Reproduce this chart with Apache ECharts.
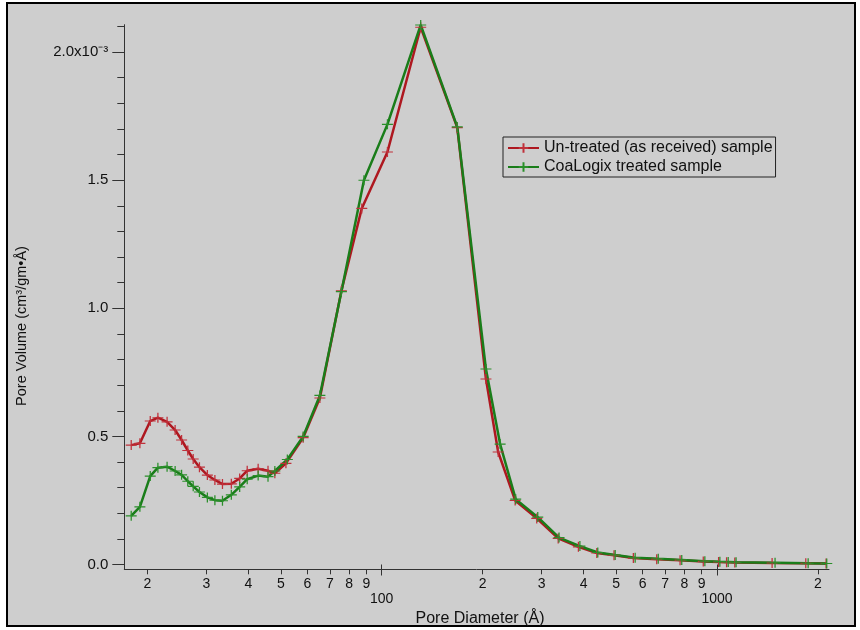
<!DOCTYPE html>
<html><head><meta charset="utf-8">
<script src="https://cdn.jsdelivr.net/npm/echarts@6/dist/echarts.min.js"></script>
<style>html,body{margin:0;padding:0;background:#fff}#c{width:860px;height:630px}</style>
</head><body><div id="c"></div>
<script>
// Pore diameter (Å) and pore volume (units of 1e-3 cm3/gm·Å)
const diameterUntreated = [17.9,19.0,20.4,21.5,22.9,24.2,25.3,26.4,27.4,28.6,30.2,31.8,33.5,35.6,37.7,39.7,42.8,45.8,48.0,51.8,58.3,65.4,75.8,87.2,104,130.7,168,204.6,222.5,250,290,336,386,438,493,563,661,776,910,1011,1068,1130,1460,1840,2115];
const volumeUntreated = [0.466,0.473,0.560,0.573,0.557,0.525,0.486,0.445,0.412,0.380,0.349,0.330,0.314,0.315,0.336,0.366,0.374,0.366,0.356,0.395,0.495,0.650,1.068,1.39,1.61,2.097,1.705,0.724,0.439,0.250,0.180,0.102,0.069,0.045,0.036,0.025,0.021,0.017,0.012,0.010,0.009,0.008,0.006,0.005,0.004];
const diameterTreated = [17.9,19.0,20.4,21.5,22.9,24.2,25.3,26.4,27.4,28.6,30.2,31.8,33.5,35.6,37.7,39.7,42.8,45.8,48.0,52.3,58.3,65.4,75.8,88.5,104,130.7,168,204.6,225.5,251,292,338,390,441,497,570,668,785,920,1020,1080,1140,1490,1870,2125];
const volumeTreated = [0.190,0.225,0.345,0.378,0.382,0.365,0.350,0.325,0.305,0.283,0.262,0.251,0.249,0.272,0.303,0.333,0.347,0.343,0.365,0.410,0.500,0.660,1.065,1.50,1.718,2.106,1.708,0.763,0.470,0.255,0.185,0.105,0.072,0.047,0.037,0.026,0.022,0.018,0.013,0.011,0.010,0.009,0.007,0.005,0.004];
const seriesNames = ['Un-treated (as received) sample','CoaLogix treated sample'];
const xMinorTicks = [20,30,40,50,60,70,80,90,200,300,400,500,600,700,800,900,2000];
const xMajorTicks = [100,1000];
const yMajorTicks = [0,0.5,1.0,1.5,2.0];
const yMinorTicks = [0.1,0.2,0.3,0.4,0.6,0.7,0.8,0.9,1.1,1.2,1.3,1.4,1.6,1.7,1.8,1.9,2.1];

const chart = echarts.init(document.getElementById('c'), null, {renderer:'canvas'});
const FONT = 'Liberation Sans, Arial, sans-serif';
const crossSym = 'path://M0,5L10,5M5,0L5,10';
const xMin = 17.07, xMax = 2158, yMin = -0.0187, yMax = 2.107;

function xLabel(v){
  const e = Math.floor(Math.log10(v) + 1e-9);
  const p = Math.pow(10, e);
  const m = Math.round(v / p);
  if (m === 1) return '\n' + Math.round(v);
  return String(m);
}

const option = {
  animation: false,
  backgroundColor: 'transparent',
  graphic: [
    {type:'rect', z:-10, shape:{x:7,y:3,width:848,height:623}, style:{fill:'#cecece', stroke:'#000', lineWidth:2}},
    {type:'text', z:10, x:22, y:326, rotation:Math.PI/2,
     style:{text:'Pore Volume (cm³/gm•Å)', font:'14.5px '+FONT, fill:'#111', align:'center', verticalAlign:'middle'}},
    {type:'text', z:10, x:480, y:619,
     style:{text:'Pore Diameter (Å)', font:'16px '+FONT, fill:'#111', align:'center', verticalAlign:'middle'}}
  ],
  grid: {left:124.3, right:31, top:24.7, bottom:60.7, containLabel:false},
  legend: {
    orient:'vertical', left:503, top:137, padding:[3,3,2,4],
    borderColor:'#222', borderWidth:1, backgroundColor:'transparent',
    itemWidth:31, itemHeight:12, itemGap:3,
    textStyle:{fontFamily:FONT, fontSize:16, color:'#111'},
    data: seriesNames
  },
  xAxis: [
    {type:'log', logBase:10, min:xMin, max:xMax,
     axisLine:{show:true, onZero:false, lineStyle:{color:'#333', width:1}},
     axisTick:{show:true, inside:false, length:5, customValues:xMinorTicks, lineStyle:{color:'#333'}},
     axisLabel:{show:true, margin:7, customValues:xMinorTicks.concat(xMajorTicks), formatter:xLabel,
       fontFamily:FONT, fontSize:14, color:'#111', lineHeight:15},
     splitLine:{show:false}, minorTick:{show:false}},
    {type:'log', logBase:10, min:xMin, max:xMax, position:'bottom',
     axisLine:{show:false},
     axisTick:{show:true, length:11, customValues:xMajorTicks, lineStyle:{color:'#333'}},
     axisLabel:{show:false}, splitLine:{show:false}}
  ],
  yAxis: [
    {type:'value', min:yMin, max:yMax,
     axisLine:{show:true, onZero:false, lineStyle:{color:'#333', width:1}},
     axisTick:{show:true, length:12, customValues:yMajorTicks, lineStyle:{color:'#333'}},
     axisLabel:{show:true, margin:16, customValues:yMajorTicks,
       formatter:function(v){ return Math.abs(v-2)<1e-6 ? '2.0x10⁻³' : v.toFixed(1); },
       fontFamily:FONT, fontSize:15, color:'#111'},
     splitLine:{show:false}},
    {type:'value', min:yMin, max:yMax, position:'left',
     axisLine:{show:false},
     axisTick:{show:true, length:7, customValues:yMinorTicks, lineStyle:{color:'#333'}},
     axisLabel:{show:false}, splitLine:{show:false}}
  ],
  series: [
    {name:seriesNames[0], type:'line', xAxisIndex:0, yAxisIndex:0,
     data: diameterUntreated.map((d,i)=>[d, volumeUntreated[i]]),
     symbol:crossSym, symbolSize:[11,10], showAllSymbol:true,
     lineStyle:{color:'#ae1820', width:2.5},
     itemStyle:{color:'#ae1820', borderColor:'#c0303a', borderWidth:1.2}},
    {name:seriesNames[1], type:'line', xAxisIndex:0, yAxisIndex:0,
     data: diameterTreated.map((d,i)=>[d, volumeTreated[i]]),
     symbol:crossSym, symbolSize:[11,10], showAllSymbol:true,
     lineStyle:{color:'#1a7d1a', width:2.5},
     itemStyle:{color:'#1a7d1a', borderColor:'#2a8f2a', borderWidth:1.2}}
  ]
};
chart.setOption(option);
</script></body></html>
